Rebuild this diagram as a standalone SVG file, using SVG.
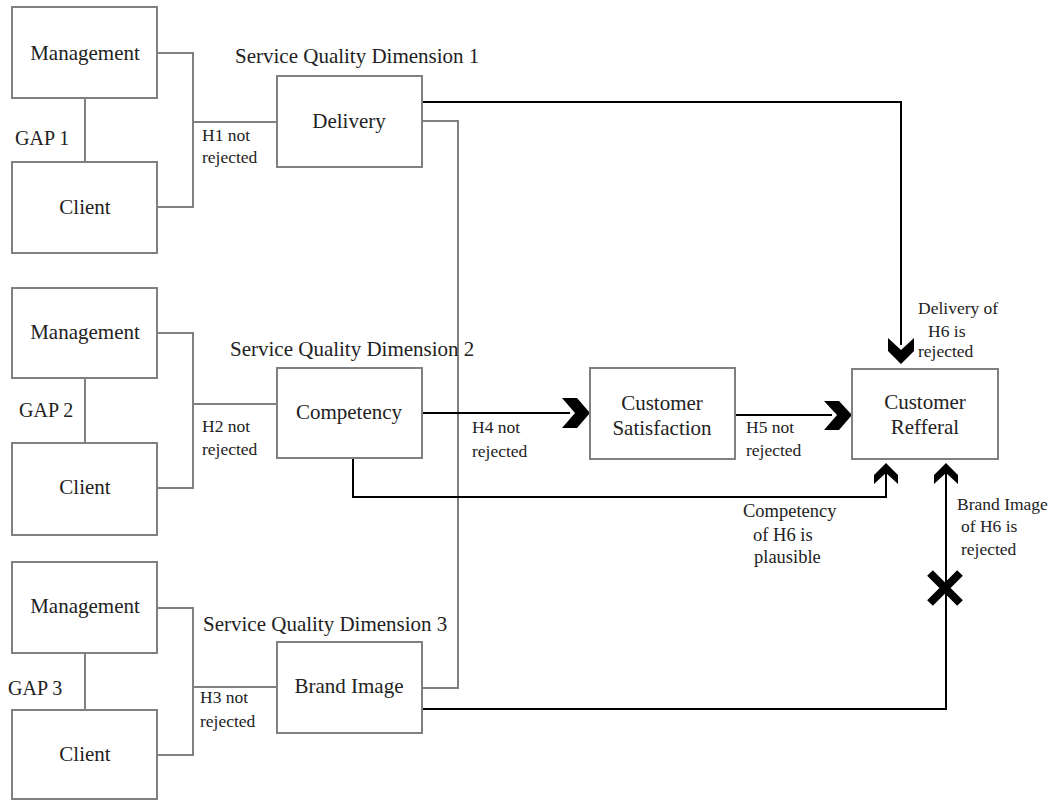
<svg xmlns="http://www.w3.org/2000/svg" width="1056" height="801" viewBox="0 0 1056 801">
<style>
.box{fill:#fff;stroke:#808080;stroke-width:2}
.g{fill:none;stroke:#808080;stroke-width:2}
.k{fill:none;stroke:#000;stroke-width:2}
text{font-family:'Liberation Serif','DejaVu Serif','Noto Serif',serif;fill:#222}
.bl{font-size:21px;text-anchor:middle}
.hd{font-size:21px}
.sm{font-size:17.5px}
.md{font-size:18.5px}
.gap{font-size:20px}
.ah{fill:#000;stroke:none}
</style>
<rect width="1056" height="801" fill="#fff"/>
<g id="connectors">
<path class="g" d="M85,99V162M85,378V443M85,653V710"/>
<path class="g" d="M157,53H193V207H157M193,122H277"/>
<path class="g" d="M157,333H193V488H157M193,404H277"/>
<path class="g" d="M157,608H193V755H157M193,687H277"/>
<path class="g" d="M422,121H458V688H422"/>
<path class="k" d="M422,102H901V345"/>
<path class="k" d="M422,413H570"/>
<path class="k" d="M735,415H832"/>
<path class="k" d="M353,458V497H886V470"/>
<path class="k" d="M422,709H946V470"/>
<polygon class="ah" points="562,398 577,398 590,413 577,428 562,428 575,413"/>
<polygon class="ah" points="824,401 839,401 852,415 839,430 824,430 837,415"/>
<polygon class="ah" points="888,338 901,350 914,338 914,351 901,364 888,351"/>
<polygon class="ah" points="886,463 898,475 898,484 886,473 874,484 874,475"/>
<polygon class="ah" points="946,463 958,475 958,484 946,473 934,484 934,475"/>
<path d="M930,573L960,603M960,573L930,603" stroke="#000" stroke-width="8"/>
</g>
<g id="management1"><rect class="box" x="12" y="7" width="145" height="91"/><text class="bl" x="85" y="60">Management</text></g>
<g id="client1"><rect class="box" x="12" y="162" width="145" height="91"/><text class="bl" x="85" y="214">Client</text></g>
<g id="gap1"><text class="gap" x="15" y="145">GAP 1</text></g>
<g id="management2"><rect class="box" x="12" y="288" width="145" height="90"/><text class="bl" x="85" y="339">Management</text></g>
<g id="client2"><rect class="box" x="12" y="443" width="145" height="92"/><text class="bl" x="85" y="494">Client</text></g>
<g id="gap2"><text class="gap" x="19" y="417">GAP 2</text></g>
<g id="management3"><rect class="box" x="12" y="562" width="145" height="91"/><text class="bl" x="85" y="613">Management</text></g>
<g id="client3"><rect class="box" x="12" y="710" width="145" height="89"/><text class="bl" x="85" y="761">Client</text></g>
<g id="gap3"><text class="gap" x="8" y="695">GAP 3</text></g>
<g id="h1"><text class="sm" x="202" y="141">H1 not</text><text class="sm" x="202" y="163">rejected</text></g>
<g id="h2"><text class="sm" x="202" y="432">H2 not</text><text class="sm" x="202" y="455">rejected</text></g>
<g id="h3"><text class="sm" x="200" y="703">H3 not</text><text class="sm" x="200" y="727">rejected</text></g>
<g id="delivery"><text class="hd" x="235" y="63">Service Quality Dimension 1</text><rect class="box" x="277" y="76" width="145" height="91"/><text class="bl" x="349" y="128">Delivery</text></g>
<g id="competency"><text class="hd" x="230" y="356">Service Quality Dimension 2</text><rect class="box" x="277" y="368" width="145" height="90"/><text class="bl" x="349" y="419">Competency</text></g>
<g id="brandimage"><text class="hd" x="203" y="631">Service Quality Dimension 3</text><rect class="box" x="277" y="642" width="145" height="91"/><text class="bl" x="349" y="693">Brand Image</text></g>
<g id="satisfaction"><rect class="box" x="590" y="368" width="145" height="91"/><text class="bl" x="662" y="410">Customer</text><text class="bl" x="662" y="435">Satisfaction</text></g>
<g id="h4"><text class="sm" x="472" y="433">H4 not</text><text class="sm" x="472" y="457">rejected</text></g>
<g id="h5"><text class="sm" x="746" y="433">H5 not</text><text class="sm" x="746" y="456">rejected</text></g>
<g id="referral"><rect class="box" x="852" y="369" width="146" height="90"/><text class="bl" x="925" y="409">Customer</text><text class="bl" x="925" y="434">Refferal</text></g>
<g id="h6delivery"><text class="sm" x="918" y="314">Delivery of</text><text class="sm" x="928" y="337">H6 is</text><text class="sm" x="918" y="357">rejected</text></g>
<g id="h6competency"><text class="md" x="743" y="517">Competency</text><text class="md" x="753" y="541">of H6 is</text><text class="md" x="754" y="563">plausible</text></g>
<g id="h6brand"><text class="sm" x="957" y="510">Brand Image</text><text class="sm" x="961" y="532"> of  H6 is</text><text class="sm" x="961" y="555">rejected</text></g>
</svg>
